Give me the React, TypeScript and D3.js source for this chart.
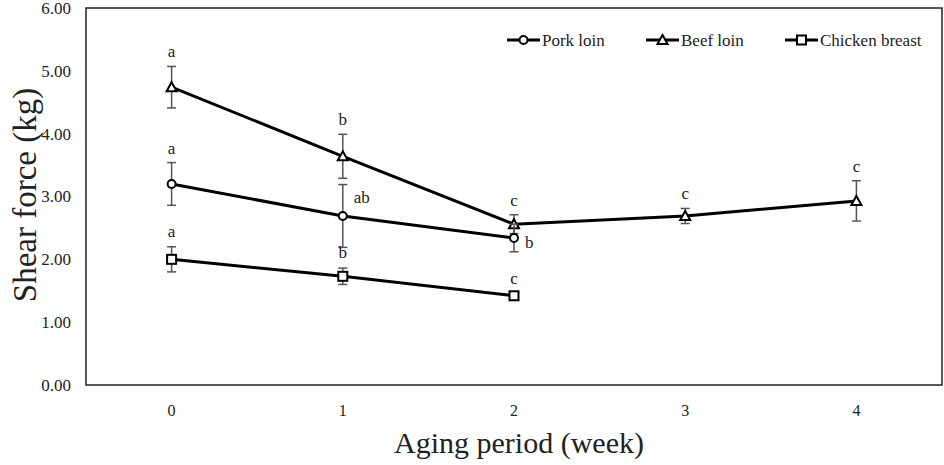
import { useEffect, useRef } from 'react';
import * as d3 from 'd3';

// Aging period (weeks)
const weeks = ['0', '1', '2', '3', '4'];
const yTicks = [0, 1, 2, 3, 4, 5, 6];

const porkMean = [3.2, 2.69, 2.34];
const porkSd = [0.34, 0.5, 0.22];
const porkLetters = ['a', 'ab', 'b'];

const beefMean = [4.74, 3.64, 2.56, 2.69, 2.93];
const beefSd = [0.33, 0.35, 0.15, 0.12, 0.32];
const beefLetters = ['a', 'b', 'c', 'c', 'c'];

const chickenMean = [2.0, 1.73, 1.42];
const chickenSd = [0.2, 0.13, 0.03];
const chickenLetters = ['a', 'b', 'c'];

const seriesNames = ['Pork loin', 'Beef loin', 'Chicken breast'];

type Marker = 'circle' | 'triangle' | 'square';

export default function App() {
  const svgRef = useRef<SVGSVGElement>(null);

  useEffect(() => {
    document.body.style.margin = '0';
    if (!svgRef.current) return;
    const svg = d3.select(svgRef.current);
    svg.selectAll('*').remove();

    const width = 944;
    const height = 465;
    const margin = { top: 8, right: 2, bottom: 80, left: 86 };
    const font = '"Liberation Serif", "Times New Roman", serif';

    const x = d3.scaleBand()
      .domain(weeks)
      .range([margin.left, width - margin.right]);
    const y = d3.scaleLinear()
      .domain([0, 6])
      .range([height - margin.bottom, margin.top]);
    const cx = (i: number) => (x(weeks[i]) || 0) + x.bandwidth() / 2;

    // frame
    svg.append('rect')
      .attr('x', margin.left)
      .attr('y', margin.top)
      .attr('width', width - margin.left - margin.right)
      .attr('height', height - margin.top - margin.bottom)
      .attr('fill', 'none')
      .attr('stroke', '#222')
      .attr('stroke-width', 1.5);

    // y tick labels
    svg.append('g')
      .selectAll('text')
      .data(yTicks)
      .enter()
      .append('text')
      .attr('x', 71)
      .attr('y', d => y(d))
      .attr('dy', '0.35em')
      .attr('text-anchor', 'end')
      .style('font-family', font)
      .style('font-size', '17px')
      .style('fill', '#222')
      .text(d => d.toFixed(2));

    // x tick labels
    svg.append('g')
      .selectAll('text')
      .data(weeks)
      .enter()
      .append('text')
      .attr('x', d => (x(d) || 0) + x.bandwidth() / 2)
      .attr('y', 410)
      .attr('dy', '0.35em')
      .attr('text-anchor', 'middle')
      .style('font-family', font)
      .style('font-size', '16px')
      .style('fill', '#222')
      .text(d => d);

    // axis titles
    svg.append('text')
      .attr('x', 519)
      .attr('y', 442)
      .attr('dy', '0.35em')
      .attr('text-anchor', 'middle')
      .style('font-family', font)
      .style('font-size', '30px')
      .style('fill', '#222')
      .text('Aging period (week)');

    svg.append('text')
      .attr('transform', `translate(24,195) rotate(-90)`)
      .attr('dy', '0.35em')
      .attr('text-anchor', 'middle')
      .style('font-family', font)
      .style('font-size', '33px')
      .style('fill', '#222')
      .text('Shear force (kg)');

    const drawMarker = (g: d3.Selection<SVGGElement, unknown, null, undefined>, type: Marker, px: number, py: number) => {
      if (type === 'circle') {
        g.append('circle')
          .attr('cx', px).attr('cy', py).attr('r', 4)
          .attr('fill', '#fff').attr('stroke', '#000').attr('stroke-width', 2);
      } else if (type === 'triangle') {
        g.append('path')
          .attr('d', `M${px},${py - 5}L${px + 5},${py + 4}L${px - 5},${py + 4}Z`)
          .attr('fill', '#fff').attr('stroke', '#000').attr('stroke-width', 2)
          .attr('stroke-linejoin', 'miter');
      } else {
        g.append('rect')
          .attr('x', px - 4.5).attr('y', py - 4.5).attr('width', 9).attr('height', 9)
          .attr('fill', '#fff').attr('stroke', '#000').attr('stroke-width', 2);
      }
    };

    const drawSeries = (mean: number[], sd: number[], type: Marker) => {
      const g = svg.append('g');
      // error bars
      mean.forEach((m, i) => {
        const px = cx(i);
        const top = y(m + sd[i]);
        const bot = y(m - sd[i]);
        g.append('line')
          .attr('x1', px).attr('x2', px).attr('y1', top).attr('y2', bot)
          .attr('stroke', '#555').attr('stroke-width', 1.5);
        [top, bot].forEach(v => {
          g.append('line')
            .attr('x1', px - 4.5).attr('x2', px + 4.5).attr('y1', v).attr('y2', v)
            .attr('stroke', '#555').attr('stroke-width', 1.5);
        });
      });
      const line = d3.line<number>()
        .x((_, i) => cx(i))
        .y(d => y(d));
      g.append('path')
        .datum(mean)
        .attr('d', line)
        .attr('fill', 'none')
        .attr('stroke', '#000')
        .attr('stroke-width', 3);
      mean.forEach((m, i) => drawMarker(g, type, cx(i), y(m)));
    };

    drawSeries(beefMean, beefSd, 'triangle');
    drawSeries(porkMean, porkSd, 'circle');
    drawSeries(chickenMean, chickenSd, 'square');

    // significance letters
    const letterStyle = (t: d3.Selection<SVGTextElement, unknown, null, undefined>) =>
      t.style('font-family', font).style('font-size', '17px').style('fill', '#222');

    const above = (mean: number[], sd: number[], letters: string[], gap: number) => {
      letters.forEach((l, i) => {
        svg.append('text')
          .attr('x', cx(i))
          .attr('y', y(mean[i] + sd[i]) - gap)
          .attr('text-anchor', 'middle')
          .call(letterStyle)
          .text(l);
      });
    };
    above(beefMean, beefSd, beefLetters, 9);
    above(chickenMean, chickenSd, chickenLetters, 10);

    // pork: first above, remaining to the right of the point
    porkLetters.forEach((l, i) => {
      if (i === 0) {
        svg.append('text')
          .attr('x', cx(i))
          .attr('y', y(porkMean[i] + porkSd[i]) - 9)
          .attr('text-anchor', 'middle')
          .call(letterStyle)
          .text(l);
      } else {
        svg.append('text')
          .attr('x', cx(i) + 11)
          .attr('y', y(porkMean[i]) + (i === 1 ? -19 : 4))
          .attr('dy', '0.35em')
          .attr('text-anchor', 'start')
          .call(letterStyle)
          .text(l);
      }
    });

    // legend
    const legendX = [507, 646, 785];
    const legendY = 40;
    const markers: Marker[] = ['circle', 'triangle', 'square'];
    const lg = svg.append('g');
    seriesNames.forEach((name, i) => {
      const lx = legendX[i];
      lg.append('line')
        .attr('x1', lx).attr('x2', lx + 33)
        .attr('y1', legendY).attr('y2', legendY)
        .attr('stroke', '#000').attr('stroke-width', 3);
      drawMarker(lg, markers[i], lx + 16.5, legendY);
      lg.append('text')
        .attr('x', lx + 35)
        .attr('y', legendY)
        .attr('dy', '0.35em')
        .style('font-family', font)
        .style('font-size', '17px')
        .style('fill', '#222')
        .text(name);
    });
  }, []);

  return <svg ref={svgRef} width={944} height={465} style={{ display: 'block', background: '#fff' }} />;
}
